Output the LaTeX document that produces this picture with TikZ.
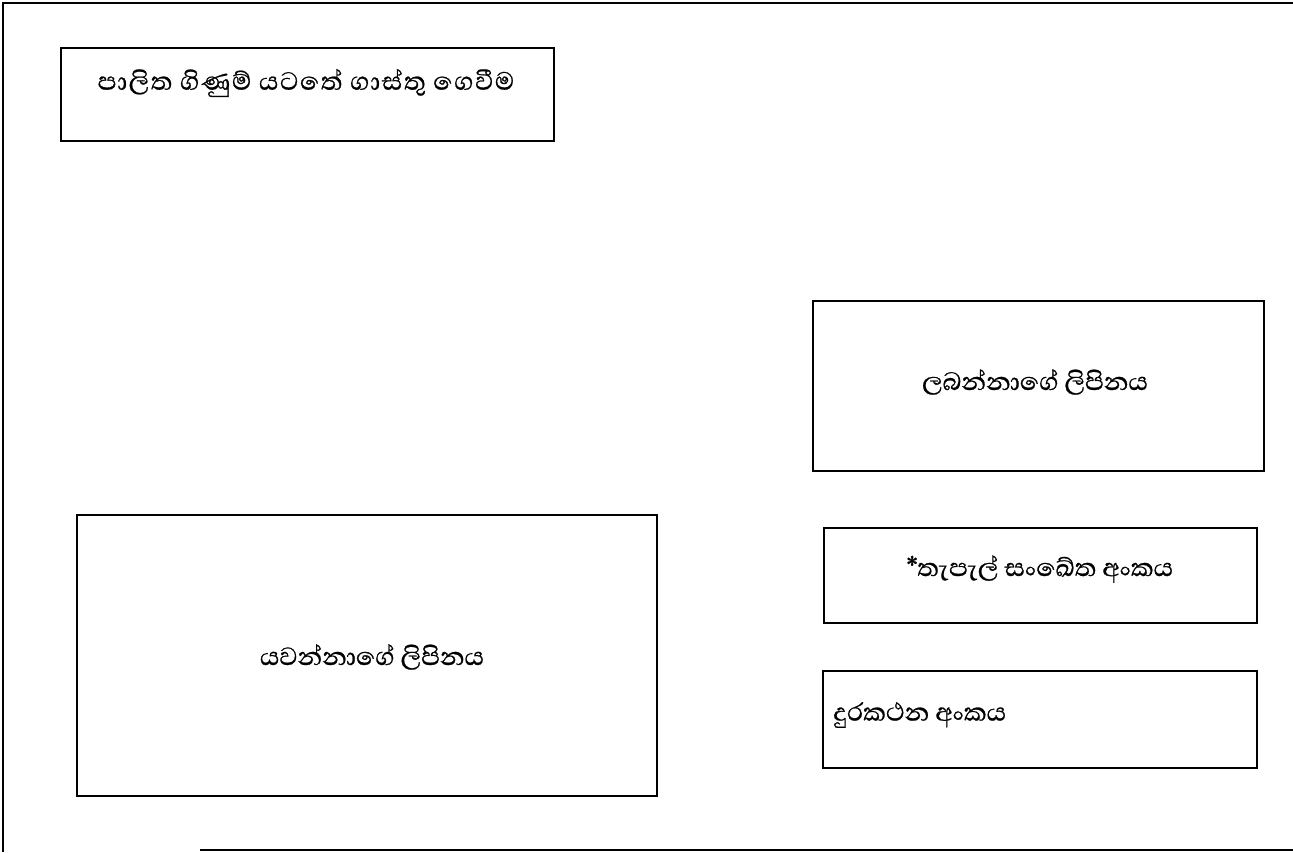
\documentclass[tikz,border=0pt]{standalone}
\usepackage{fontspec}
\newfontfamily\sinhfont[Script=Sinhala,FakeBold=0.7]{Abhaya Libre}
\begin{document}
\begin{tikzpicture}[x=1pt,y=-1pt,
  box/.style={draw,line width=1.8pt},
  lbl/.style={font=\sinhfont\fontsize{32}{36}\selectfont,inner sep=0pt},
  frame/.style={line width=2.6pt}]
\useasboundingbox (0,0) rectangle (1293,852);
\fill[white] (0,0) rectangle (1293,852);
% outer frame (partly cut)
\coordinate (ftl) at (3,3);
\coordinate (ftr) at (1293,3);
\coordinate (fbl) at (3,852);
\coordinate (fbs) at (200,850);
\coordinate (fbr) at (1293,850);
\draw[frame] (ftr) -- (ftl) -- (fbl);
\draw[line width=1.6pt] (fbs) -- (fbr);
% boxes
\node[box,minimum width=493pt,minimum height=93pt,inner sep=0pt] (paid) at (307.5,94.5) {};
\node[lbl] (paidt) at (306,83) {\addfontfeature{LetterSpace=5}පාලිත ගිණුම් යටතේ ගාස්තු ගෙවීම};
\node[box,minimum width=451pt,minimum height=170pt,inner sep=0pt] (recv) at (1038.5,386) {};
\node[lbl] (recvt) at (1035,382) {ලබන්නාගේ ලිපිනය};
\node[box,minimum width=433pt,minimum height=95pt,inner sep=0pt] (post) at (1040.5,575.5) {};
\node[lbl] (postt) at (1040,569) {*තැපැල් සංඛේත අංකය};
\node[box,minimum width=434pt,minimum height=97pt,inner sep=0pt] (phone) at (1040,719.5) {};
\node[lbl,anchor=west] (phonet) at (833,715) {දුරකථන අංකය};
\node[box,minimum width=580pt,minimum height=281pt,inner sep=0pt] (send) at (367,655.5) {};
\node[lbl] (sendt) at (372,657) {යවන්නාගේ ලිපිනය};
\end{tikzpicture}
\end{document}
